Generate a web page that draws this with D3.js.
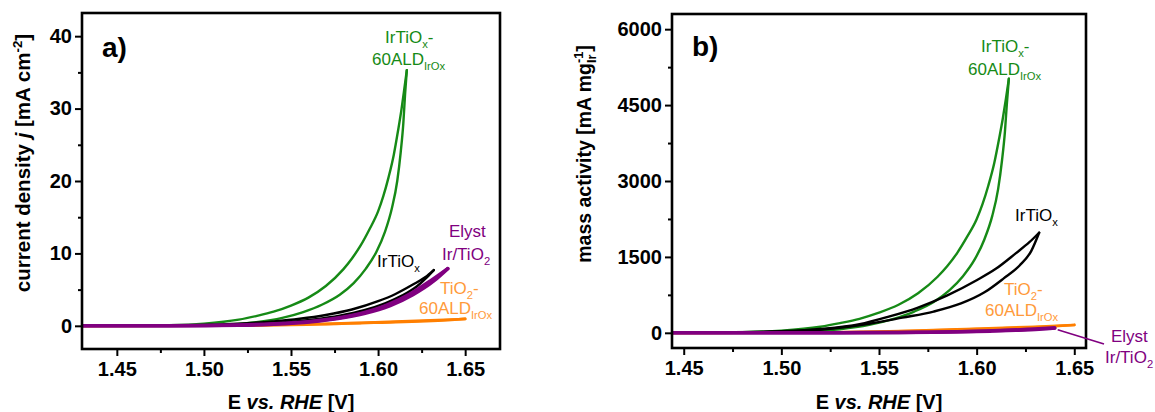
<!DOCTYPE html>
<html>
<head>
<meta charset="utf-8">
<script src="https://cdn.jsdelivr.net/npm/d3@7"></script>
<style>
  html, body { margin: 0; padding: 0; background: #fff; }
  svg { display: block; }
</style>
</head>
<body>
<svg id="chart" width="1155" height="412"></svg>
<script>
// ---------- tick values ----------
const potentialTicks = [1.45, 1.50, 1.55, 1.60, 1.65];
const potentialMinorTicks = [1.475, 1.525, 1.575, 1.625];
const densityTicks = [0, 10, 20, 30, 40];
const densityMinorTicks = [5, 15, 25, 35];
const massTicks = [0, 1500, 3000, 4500, 6000];
const massMinorTicks = [750, 2250, 3750, 5250];

// ---------- CV sweeps: potential (V vs RHE), current density (mA cm-2), mass activity (mA mg_Ir-1) ----------
// each sweep runs up to the vertex potential and back down again

// IrTiOx-60ALD_IrOx
const aldE = [1.43, 1.48, 1.50, 1.52, 1.53, 1.54, 1.55, 1.56, 1.57, 1.58, 1.585, 1.59, 1.595, 1.60, 1.603, 1.606, 1.609, 1.6115, 1.6135, 1.615, 1.6165,
              1.6155, 1.6145, 1.613, 1.611, 1.608, 1.604, 1.599, 1.593, 1.586, 1.578, 1.568, 1.557, 1.545, 1.530, 1.515, 1.50, 1.48, 1.43];
const aldJ = [0, 0.1, 0.3, 0.85, 1.35, 1.95, 2.8, 3.9, 5.5, 7.8, 9.3, 11.1, 13.3, 15.8, 17.9, 20.5, 23.6, 27.0, 30.0, 32.6, 35.3,
              32.0, 28.0, 24.0, 20.0, 16.3, 13.0, 10.2, 7.9, 5.9, 4.3, 2.95, 1.9, 1.1, 0.5, 0.2, 0.08, 0.02, 0];
const aldMass = [0, 14, 43, 121, 192, 277, 398, 554, 781, 1108, 1320, 1576, 1889, 2244, 2542, 2911, 3351, 3834, 4260, 4629, 5020,
                 4540, 3980, 3410, 2840, 2310, 1850, 1450, 1120, 840, 610, 420, 270, 156, 71, 28, 11, 3, 0];

// IrTiOx
const irtioxE = [1.43, 1.48, 1.50, 1.52, 1.54, 1.555, 1.57, 1.585, 1.60, 1.61, 1.62, 1.627, 1.632,
                 1.628, 1.622, 1.614, 1.604, 1.592, 1.578, 1.562, 1.545, 1.525, 1.50, 1.43];
const irtioxJ = [0, 0.04, 0.12, 0.3, 0.62, 0.98, 1.5, 2.25, 3.4, 4.4, 5.7, 6.7, 7.7,
                 6.7, 5.4, 4.2, 3.1, 2.15, 1.4, 0.85, 0.45, 0.18, 0.05, 0];
const irtioxMass = [0, 10, 30, 75, 170, 320, 500, 740, 1040, 1270, 1570, 1790, 1978,
                    1620, 1330, 1080, 800, 580, 420, 300, 180, 80, 20, 0];

// Elyst Ir/TiO2
const elystE = [1.43, 1.48, 1.50, 1.52, 1.54, 1.56, 1.575, 1.59, 1.605, 1.618, 1.630, 1.640,
                1.632, 1.620, 1.607, 1.592, 1.577, 1.562, 1.540, 1.520, 1.480, 1.43];
const elystJ = [0, 0.02, 0.05, 0.12, 0.28, 0.58, 1.0, 1.7, 2.85, 4.35, 6.2, 7.9,
                6.2, 4.3, 2.8, 1.7, 1.0, 0.56, 0.22, 0.08, 0.01, 0];
const elystMass = [0, 0, 1, 2, 4, 8, 13, 22, 36, 54, 76, 95,
                   72, 50, 33, 20, 12, 6, 2, 1, 0, 0];

// TiO2-60ALD_IrOx
const tioE = [1.43, 1.48, 1.51, 1.53, 1.55, 1.57, 1.59, 1.61, 1.63, 1.65,
              1.64, 1.60, 1.55, 1.50, 1.43];
const tioJ = [0, 0.01, 0.03, 0.06, 0.15, 0.28, 0.42, 0.57, 0.74, 0.95,
              0.8, 0.45, 0.12, 0.02, 0];
const tioMass = [0, 1, 4, 10, 24, 45, 68, 92, 120, 155,
                 130, 73, 20, 3, 0];

// ---------- styling ----------
const FONT = "'Liberation Sans', Arial, Helvetica, sans-serif";
const GREEN = "#168a16";
const PURPLE = "#800080";
const ORANGE = "#ff7f00";
const ORANGE_TEXT = "#ff9a3a";
const BLACK = "#000000";

const seriesList = [
  { E: tioE, j: tioJ, mass: tioMass, color: ORANGE, width: 2.7 },
  { E: aldE, j: aldJ, mass: aldMass, color: GREEN, width: 2.4 },
  { E: irtioxE, j: irtioxJ, mass: irtioxMass, color: BLACK, width: 2.4 },
  { E: elystE, j: elystJ, mass: elystMass, color: PURPLE, width: 3.5 }
];

const svg = d3.select("#chart").attr("font-family", FONT);

// text made of plain / italic / subscript / superscript pieces
function richText(g, x, y, parts, opts) {
  const size = opts.size;
  const t = g.append("text")
    .attr("x", x).attr("y", y)
    .attr("fill", opts.color || BLACK)
    .attr("font-size", size)
    .attr("font-weight", opts.weight || "normal")
    .attr("text-anchor", opts.anchor || "start");
  let shift = 0;
  parts.forEach(([txt, kind]) => {
    const ts = t.append("tspan").text(txt);
    let target = 0;
    if (kind === "sub") { ts.attr("font-size", size * 0.66); target = size * 0.28; }
    else if (kind === "sup") { ts.attr("font-size", size * 0.66); target = -size * 0.42; }
    else if (kind === "i") { ts.attr("font-style", "italic"); }
    if (target !== shift) { ts.attr("dy", target - shift); shift = target; }
  });
  return t;
}

const panels = [
  {
    letter: "a)", box: { left: 82, top: 13, right: 500, bottom: 349 },
    xDomain: [1.43, 1.67], yDomain: [-3.2, 43.2],
    yTicks: densityTicks, yMinor: densityMinorTicks, key: "j",
    letterPos: [102, 57],
    yTitle: { x: 30, y: 163, size: 20.5 },
    annotations: [
      { x: 385, y: 43, color: GREEN, parts: [["IrTiO"], ["x", "sub"], ["-"]] },
      { x: 372, y: 65, color: GREEN, parts: [["60ALD"], ["IrOx", "sub"]] },
      { x: 377, y: 267, color: BLACK, parts: [["IrTiO"], ["x", "sub"]] },
      { x: 449, y: 237, color: PURPLE, parts: [["Elyst"]] },
      { x: 442, y: 260, color: PURPLE, parts: [["Ir/TiO"], ["2", "sub"]] },
      { x: 440, y: 294, color: ORANGE_TEXT, parts: [["TiO"], ["2", "sub"], ["-"]] },
      { x: 419, y: 314, color: ORANGE_TEXT, parts: [["60ALD"], ["IrOx", "sub"]] }
    ]
  },
  {
    letter: "b)", box: { left: 672, top: 14, right: 1086, bottom: 348 },
    xDomain: [1.444, 1.656], yDomain: [-300, 6300],
    yTicks: massTicks, yMinor: massMinorTicks, key: "mass",
    letterPos: [692, 56],
    yTitle: { x: 591, y: 154, size: 19.5 },
    annotations: [
      { x: 981, y: 52, color: GREEN, parts: [["IrTiO"], ["x", "sub"], ["-"]] },
      { x: 968, y: 75, color: GREEN, parts: [["60ALD"], ["IrOx", "sub"]] },
      { x: 1015, y: 221, color: BLACK, parts: [["IrTiO"], ["x", "sub"]] },
      { x: 1004, y: 295, color: ORANGE_TEXT, parts: [["TiO"], ["2", "sub"], ["-"]] },
      { x: 985, y: 316, color: ORANGE_TEXT, parts: [["60ALD"], ["IrOx", "sub"]] },
      { x: 1111, y: 342, color: PURPLE, parts: [["Elyst"]] },
      { x: 1105, y: 363, color: PURPLE, parts: [["Ir/TiO"], ["2", "sub"]] }
    ],
    leader: { from: [1.6415, 60], to: [1104, 344] }
  }
];

panels.forEach((p, pi) => {
  const b = p.box;
  const x = d3.scaleLinear().domain(p.xDomain).range([b.left, b.right]);
  const y = d3.scaleLinear().domain(p.yDomain).range([b.bottom, b.top]);
  const g = svg.append("g");

  const clipId = "clip" + pi;
  svg.append("clipPath").attr("id", clipId)
    .append("rect").attr("x", b.left).attr("y", b.top)
    .attr("width", b.right - b.left).attr("height", b.bottom - b.top);

  // curves: rising branch and returning branch drawn separately
  const line = d3.line().x(d => x(d[0])).y(d => y(d[1])).curve(d3.curveMonotoneX);
  const plot = g.append("g").attr("clip-path", `url(#${clipId})`);
  seriesList.forEach(s => {
    const vals = s[p.key];
    const pts = s.E.map((e, i) => [e, vals[i]]);
    const iv = d3.maxIndex(s.E);
    const up = pts.slice(0, iv + 1);
    const down = pts.slice(iv).reverse();
    [up, down].forEach(branch => {
      plot.append("path")
        .attr("d", line(branch))
        .attr("fill", "none")
        .attr("stroke", s.color)
        .attr("stroke-width", s.width)
        .attr("stroke-linejoin", "round")
        .attr("stroke-linecap", "round");
    });
  });

  // axes
  const styleAxis = sel => {
    sel.select(".domain").remove();
    sel.selectAll(".tick line").attr("stroke", BLACK).attr("stroke-width", 2);
    sel.selectAll(".tick text")
      .attr("font-family", FONT).attr("font-size", 20).attr("font-weight", "bold").attr("fill", BLACK);
  };
  g.append("g").attr("transform", `translate(0,${b.bottom})`)
    .call(d3.axisBottom(x).tickValues(potentialTicks).tickFormat(d3.format(".2f")).tickSize(7).tickPadding(6))
    .call(styleAxis);
  g.append("g").attr("transform", `translate(0,${b.bottom})`)
    .call(d3.axisBottom(x).tickValues(potentialMinorTicks).tickFormat("").tickSize(4))
    .call(styleAxis);
  g.append("g").attr("transform", `translate(${b.left},0)`)
    .call(d3.axisLeft(y).tickValues(p.yTicks).tickFormat(d3.format("d")).tickSize(7).tickPadding(3))
    .call(styleAxis);
  g.append("g").attr("transform", `translate(${b.left},0)`)
    .call(d3.axisLeft(y).tickValues(p.yMinor).tickFormat("").tickSize(4))
    .call(styleAxis);

  // frame
  g.append("rect")
    .attr("x", b.left).attr("y", b.top)
    .attr("width", b.right - b.left).attr("height", b.bottom - b.top)
    .attr("fill", "none").attr("stroke", BLACK).attr("stroke-width", 2.6);

  // panel letter
  g.append("text").attr("x", p.letterPos[0]).attr("y", p.letterPos[1])
    .attr("font-size", 28).attr("font-weight", "bold").text(p.letter);

  // x title
  richText(g, (b.left + b.right) / 2, 409,
    [["E "], ["vs.", "i"], [" "], ["RHE", "i"], [" [V]"]],
    { size: 20, weight: "bold", anchor: "middle" });

  // y title (rotated)
  const ts = p.yTitle.size;
  const tg = g.append("g").attr("transform", `translate(${p.yTitle.x},${p.yTitle.y}) rotate(-90)`);
  const tt = tg.append("text").attr("x", 0).attr("y", 0)
    .attr("font-size", ts).attr("font-weight", "bold").attr("fill", BLACK);
  if (p.key === "j") {
    tt.append("tspan").text("current density ");
    tt.append("tspan").attr("font-style", "italic").text("j");
    tt.append("tspan").text(" [mA cm");
    tt.append("tspan").attr("font-size", ts * 0.65).attr("dy", -8).text("-2");
    tt.append("tspan").attr("dy", 8).text("]");
  } else {
    tt.append("tspan").text("mass activity [mA mg");
    const sub = tt.append("tspan").attr("font-size", ts * 0.65).attr("dy", 5).text("Ir");
    const wSub = sub.node().getComputedTextLength();
    const sup = tt.append("tspan").attr("font-size", ts * 0.65).attr("dx", -wSub).attr("dy", -13).text("-1");
    const wSup = sup.node().getComputedTextLength();
    tt.append("tspan").attr("dy", 8).attr("dx", Math.max(0, wSub - wSup)).text("]");
  }
  const w = tt.node().getBBox().width;
  tt.attr("x", -w / 2);

  // curve labels
  p.annotations.forEach(a => richText(g, a.x, a.y, a.parts, { size: 17, color: a.color }));

  if (p.leader) {
    g.append("line")
      .attr("x1", x(p.leader.from[0])).attr("y1", y(p.leader.from[1]))
      .attr("x2", p.leader.to[0]).attr("y2", p.leader.to[1])
      .attr("stroke", PURPLE).attr("stroke-width", 1.6);
  }
});
</script>
</body>
</html>
